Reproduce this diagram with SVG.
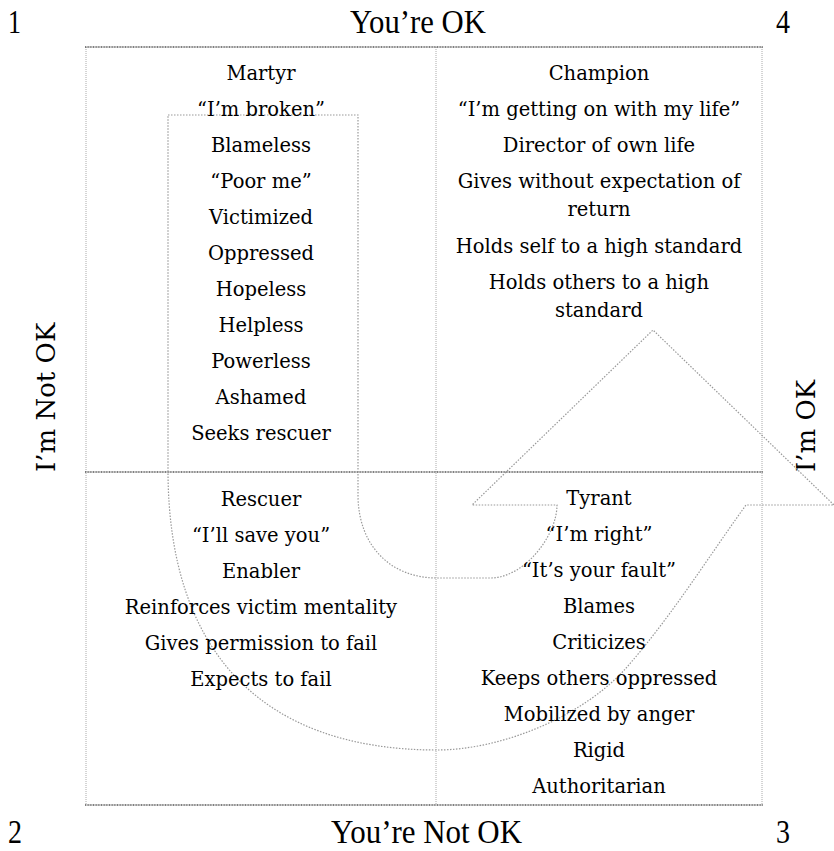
<svg xmlns="http://www.w3.org/2000/svg" width="834" height="851" viewBox="0 0 834 851">
<style>
.t{font-family:"DejaVu Serif","Liberation Serif",serif;font-size:19.5px;fill:#000;text-anchor:middle}
.h{font-family:"Liberation Serif",serif;font-size:33px;fill:#000}
.s{font-family:"DejaVu Serif","Liberation Serif",serif;font-size:26px;fill:#000}
.gh{stroke:#555;stroke-width:1.6;stroke-dasharray:1 0.6;fill:none}
.gv{stroke:#aaa;stroke-width:1;stroke-dasharray:1 1;fill:none}
.ar{stroke:#999;stroke-width:1.2;stroke-dasharray:1.5 1.5;fill:none}
</style>
<rect width="834" height="851" fill="#fff"/>
<g id="grid">
<line class="gv" x1="86" y1="47" x2="86" y2="805"/>
<line class="gv" x1="436" y1="47" x2="436" y2="805"/>
<line class="gv" x1="762" y1="47" x2="762" y2="805"/>
<line class="gh" x1="85" y1="47" x2="763" y2="47"/>
<line class="gh" x1="85" y1="472" x2="763" y2="472"/>
<line class="gh" x1="85" y1="805" x2="763" y2="805"/>
</g>
<g id="labels">
<text class="h" x="8" y="33" textLength="13" lengthAdjust="spacingAndGlyphs">1</text>
<text class="h" x="776" y="33" textLength="14" lengthAdjust="spacingAndGlyphs">4</text>
<text class="h" x="8" y="843" textLength="14" lengthAdjust="spacingAndGlyphs">2</text>
<text class="h" x="776" y="843" textLength="14" lengthAdjust="spacingAndGlyphs">3</text>
<text class="h" x="350" y="33" textLength="136" lengthAdjust="spacingAndGlyphs">You’re OK</text>
<text class="h" x="331" y="843" textLength="191" lengthAdjust="spacingAndGlyphs">You’re Not OK</text>
<text class="s" transform="translate(55,472) rotate(-90)">I’m Not OK</text>
<text class="s" transform="translate(815,472) rotate(-90)">I’m OK</text>
</g>
<g id="connectors">
<path class="ar" d="M168,115 L358,115 L358,495 C358,545 390,578 437,578 L490,578 C525,578 557,535 557,505 L472,505 L653,330 L834,505 L746,505 C707,559 671,617 627,667 C584,716 502,750 437,750 C262,750 168,652 168,470 Z"/>
</g>
<g id="martyr">
<text class="t" x="261" y="80">Martyr</text>
<text class="t" x="261" y="116">“I’m broken”</text>
<text class="t" x="261" y="152">Blameless</text>
<text class="t" x="261" y="188">“Poor me”</text>
<text class="t" x="261" y="224">Victimized</text>
<text class="t" x="261" y="260">Oppressed</text>
<text class="t" x="261" y="296">Hopeless</text>
<text class="t" x="261" y="332">Helpless</text>
<text class="t" x="261" y="368">Powerless</text>
<text class="t" x="261" y="404">Ashamed</text>
<text class="t" x="261" y="440">Seeks rescuer</text>
</g>
<g id="champion">
<text class="t" x="599" y="80">Champion</text>
<text class="t" x="599" y="116">“I’m getting on with my life”</text>
<text class="t" x="599" y="152">Director of own life</text>
<text class="t" x="599" y="188">Gives without expectation of</text>
<text class="t" x="599" y="216">return</text>
<text class="t" x="599" y="253">Holds self to a high standard</text>
<text class="t" x="599" y="289">Holds others to a high</text>
<text class="t" x="599" y="317">standard</text>
</g>
<g id="rescuer">
<text class="t" x="261" y="506">Rescuer</text>
<text class="t" x="261" y="542">“I’ll save you”</text>
<text class="t" x="261" y="578">Enabler</text>
<text class="t" x="261" y="614">Reinforces victim mentality</text>
<text class="t" x="261" y="650">Gives permission to fail</text>
<text class="t" x="261" y="686">Expects to fail</text>
</g>
<g id="tyrant">
<text class="t" x="599" y="505">Tyrant</text>
<text class="t" x="599" y="541">“I’m right”</text>
<text class="t" x="599" y="577">“It’s your fault”</text>
<text class="t" x="599" y="613">Blames</text>
<text class="t" x="599" y="649">Criticizes</text>
<text class="t" x="599" y="685">Keeps others oppressed</text>
<text class="t" x="599" y="721">Mobilized by anger</text>
<text class="t" x="599" y="757">Rigid</text>
<text class="t" x="599" y="793">Authoritarian</text>
</g>
</svg>
